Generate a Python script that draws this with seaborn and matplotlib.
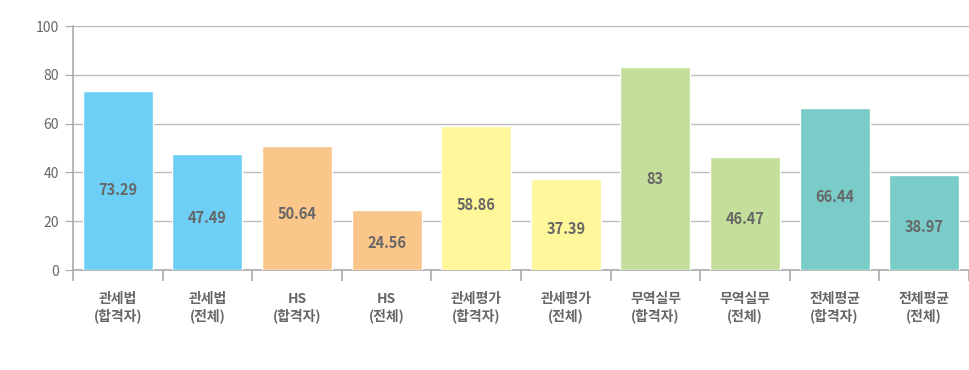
import pandas as pd
import matplotlib.pyplot as plt
import seaborn as sns

# chart data
labels = ['관세법\n(합격자)', '관세법\n(전체)', 'HS\n(합격자)', 'HS\n(전체)',
          '관세평가\n(합격자)', '관세평가\n(전체)', '무역실무\n(합격자)', '무역실무\n(전체)',
          '전체평균\n(합격자)', '전체평균\n(전체)']
scores = [73.29, 47.49, 50.64, 24.56, 58.86, 37.39, 83, 46.47, 66.44, 38.97]
score_text = ['73.29', '47.49', '50.64', '24.56', '58.86', '37.39', '83', '46.47', '66.44', '38.97']
bar_colors = ['#6DCFF6', '#6DCFF6', '#FBC68A', '#FBC68A', '#FFF799', '#FFF799',
              '#C4DF9B', '#C4DF9B', '#7ACCC8', '#7ACCC8']

sns.set_style('white')
plt.rcParams['font.family'] = ['Noto Sans CJK KR', 'DejaVu Sans']

df = pd.DataFrame({'label': labels, 'score': scores})

fig = plt.figure(figsize=(9.7, 3.7), dpi=100)
ax = fig.add_axes([73 / 970, 1 - 270 / 370, 896 / 970, 244 / 370])

sns.barplot(data=df, x='label', y='score', hue='label', palette=bar_colors,
            width=0.78, legend=False, ax=ax, saturation=1, zorder=3)

text_color = '#666666'
for i, (v, t) in enumerate(zip(scores, score_text)):
    ax.text(i, v * 0.45, t, ha='center', va='center', fontsize=10.5,
            color=text_color, fontweight='bold', zorder=4)

ax.set_ylim(0, 100)
ax.set_xlim(-0.5, len(labels) - 0.5)
ax.set_yticks([0, 20, 40, 60, 80, 100])
ax.yaxis.grid(True, color='#BBBBBB', linewidth=1, zorder=0)
ax.set_axisbelow(True)
ax.set_xlabel('')
ax.set_ylabel('')

for side in ['top', 'right']:
    ax.spines[side].set_visible(False)
ax.spines['left'].set_color('#AAAAAA')
ax.spines['bottom'].set_color('#AAAAAA')
ax.spines['left'].set_linewidth(1.2)
ax.spines['bottom'].set_linewidth(1.2)

ax.tick_params(axis='y', which='major', left=True, length=6, color='#AAAAAA',
               labelsize=10, labelcolor=text_color, pad=4)
ax.tick_params(axis='x', which='major', bottom=False, labelsize=10,
               labelcolor=text_color, pad=12)
ax.set_xticks([i - 0.5 for i in range(len(labels) + 1)], minor=True)
ax.tick_params(axis='x', which='minor', bottom=True, length=8, color='#AAAAAA', width=1.2)
for lbl in ax.get_xticklabels():
    lbl.set_fontweight('bold')
    lbl.set_linespacing(1.2)
for lbl in ax.get_yticklabels():
    lbl.set_fontweight('medium')

fig.savefig('out.png', dpi=100)
